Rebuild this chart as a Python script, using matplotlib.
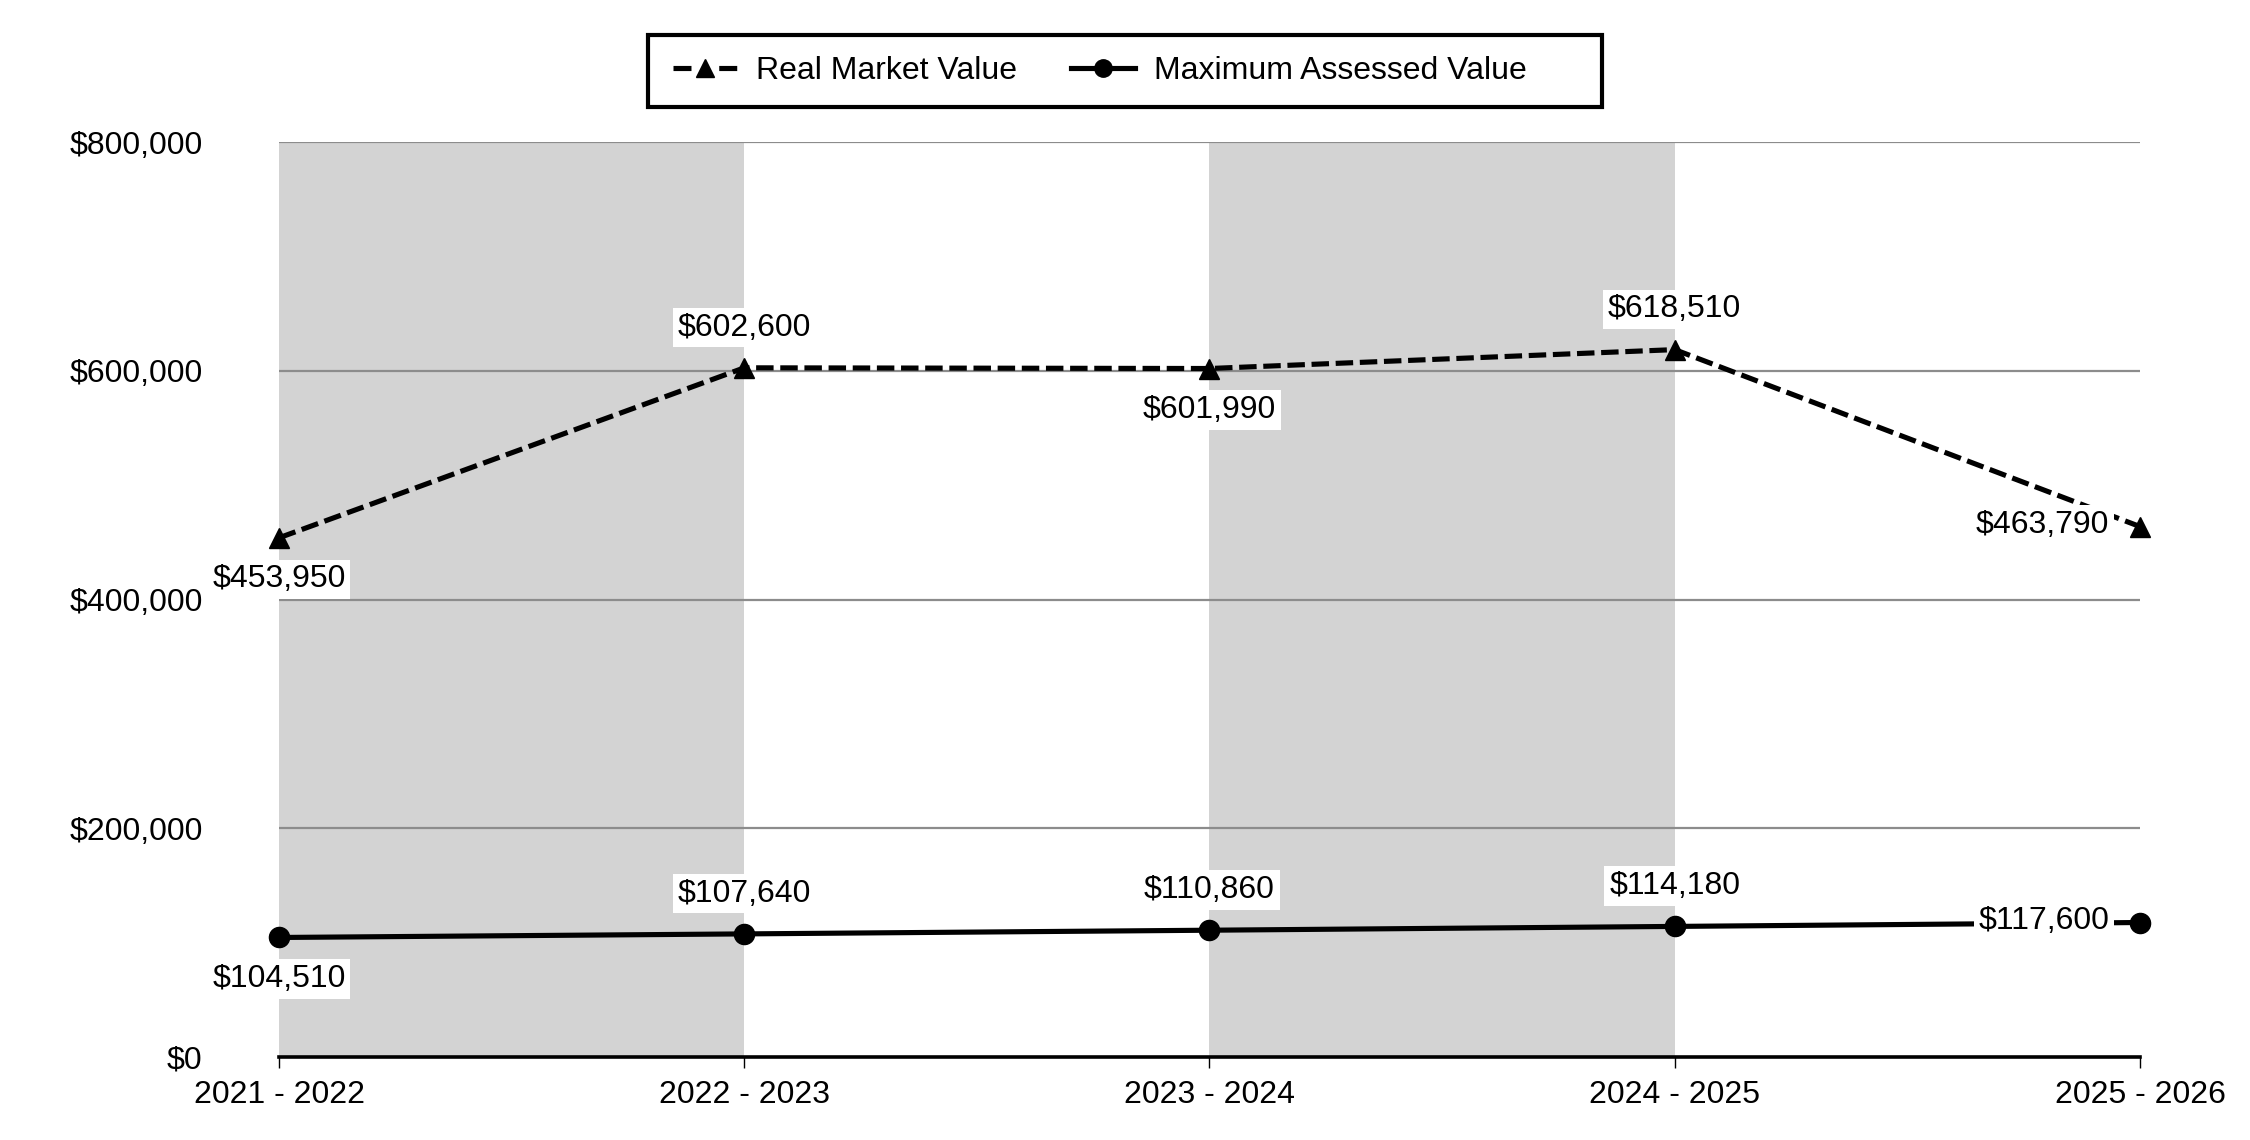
import matplotlib
matplotlib.use("Agg")
import matplotlib.pyplot as plt
from matplotlib.patches import Rectangle
from matplotlib.lines import Line2D

plt.rcParams['font.family'] = ['Liberation Sans', 'DejaVu Sans']

# ---- data ----
years = ["2021 - 2022", "2022 - 2023", "2023 - 2024", "2024 - 2025", "2025 - 2026"]
real_market_value = [453950, 602600, 601990, 618510, 463790]
max_assessed_value = [104510, 107640, 110860, 114180, 117600]
y_ticks = [0, 200000, 400000, 600000, 800000]
shaded_bands = [(0, 1), (2, 3)]
series_names = ["Real Market Value", "Maximum Assessed Value"]

# label placement (style)
rmv_place = ["below", "above", "below", "above", "left"]
mav_place = ["below", "above", "above", "above", "left"]

FS = 23
LW = 3.7
fig = plt.figure(figsize=(22.5, 11.4), dpi=100)
ax = fig.add_axes([0.124, 0.0728, 0.8271, 0.8026])

x = list(range(len(years)))

for a, b in shaded_bands:
    ax.axvspan(a, b, color="#d3d3d3", zorder=0, lw=0)
for yt in y_ticks[1:]:
    ax.axhline(yt, color="#8c8c8c", lw=1.6, zorder=1.5)

ax.plot(x, real_market_value, color="black", lw=LW, ls=(0, (3.4, 1.3)),
        marker="^", markersize=15, clip_on=False, zorder=3)
ax.plot(x, max_assessed_value, color="black", lw=LW, ls="-",
        marker="o", markersize=14.5, clip_on=False, zorder=3)


def fmt(v):
    return "${:,}".format(v)


def put_labels(vals, places):
    for xi, v, p in zip(x, vals, places):
        if p == "above":
            off, ha, va = (0, 29), "center", "center"
        elif p == "below":
            off, ha, va = (0, -30), "center", "center"
        else:
            off, ha, va = (-22, 1), "right", "center"
        ax.annotate(fmt(v), (xi, v), xytext=off, textcoords="offset points",
                    ha=ha, va=va, fontsize=FS, zorder=4,
                    bbox=dict(boxstyle="square,pad=0.15", fc="white", ec="none"))


put_labels(real_market_value, rmv_place)
put_labels(max_assessed_value, mav_place)

ax.set_xlim(0, len(years) - 1)
ax.set_ylim(0, 800000)
ax.set_xticks(x)
ax.set_xticklabels(years, fontsize=FS)
ax.set_yticks(y_ticks)
ax.set_yticklabels([fmt(v) for v in y_ticks], fontsize=FS)

for s in ["left", "right", "top"]:
    ax.spines[s].set_visible(False)
ax.spines["bottom"].set_linewidth(2.6)
ax.spines["bottom"].set_color("black")
ax.spines["bottom"].set_zorder(3.5)
ax.tick_params(axis="x", direction="out", length=8, width=1, pad=8.5, colors="black")
ax.tick_params(axis="y", length=0, pad=55)

# legend: box drawn separately to match the asymmetric padding
fig.patches.append(Rectangle((648 / 2250, 1 - 107 / 1140), 954 / 2250, 72 / 1140,
                             transform=fig.transFigure, fill=False,
                             edgecolor="black", linewidth=3, zorder=5))
h_rmv = Line2D([], [], color="black", lw=LW, ls=(0, (3.5, 5.4)),
               marker="^", markersize=12.5)
h_mav = Line2D([], [], color="black", lw=LW, ls="-", marker="o", markersize=12.5)
fig.legend(handles=[h_rmv, h_mav], labels=series_names, loc="center left", ncol=2,
           bbox_to_anchor=(673 / 2250, 1 - 71 / 1140), fontsize=FS, frameon=False,
           handlelength=2.0, handletextpad=0.6, columnspacing=1.7,
           borderpad=0, borderaxespad=0)

fig.savefig("out.png", dpi=100)
